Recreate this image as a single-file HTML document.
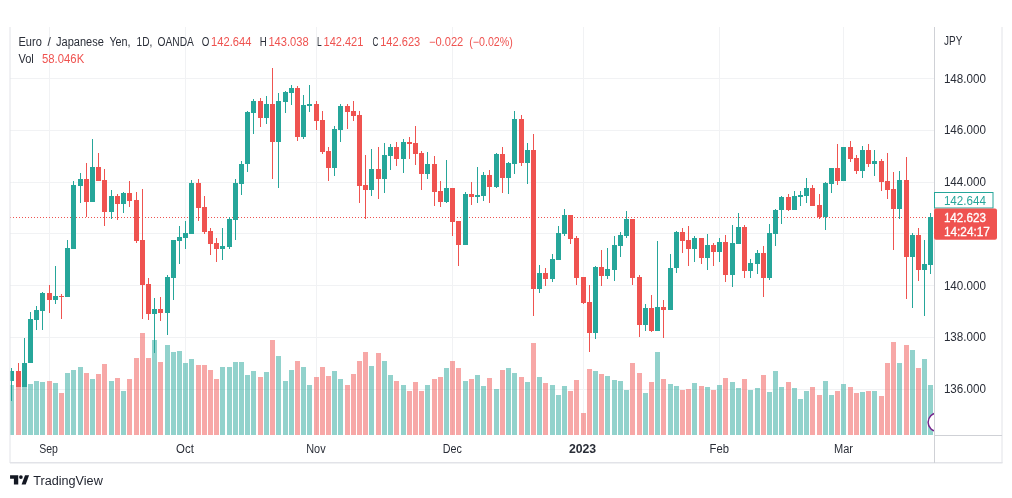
<!DOCTYPE html>
<html lang="en"><head><meta charset="utf-8"><title>EURJPY chart</title>
<style>
html,body{margin:0;padding:0;background:#fff}
body{width:1012px;height:498px;overflow:hidden;position:relative}
svg{display:block;position:absolute;left:0;top:0}
text{font-family:"Liberation Sans","DejaVu Sans",sans-serif;font-size:12px;fill:#2a2e38}
.r{fill:#ef5350}
.g{fill:#26a69a}
.w{fill:#fff;stroke:#fff;stroke-width:0.3px}
</style></head><body>
<svg width="1012" height="498" viewBox="0 0 1012 498">
<defs><clipPath id="pane"><rect x="10" y="27" width="924" height="408.5"/></clipPath></defs>
<rect width="1012" height="498" fill="#fff"/>
<g stroke="#f1f2f4" stroke-width="1" shape-rendering="crispEdges">
<line x1="10" y1="78.5" x2="934" y2="78.5"/>
<line x1="10" y1="130.5" x2="934" y2="130.5"/>
<line x1="10" y1="182.5" x2="934" y2="182.5"/>
<line x1="10" y1="233.5" x2="934" y2="233.5"/>
<line x1="10" y1="285.5" x2="934" y2="285.5"/>
<line x1="10" y1="337.5" x2="934" y2="337.5"/>
<line x1="10" y1="389.5" x2="934" y2="389.5"/>
<line x1="49.5" y1="27" x2="49.5" y2="435"/>
<line x1="185.5" y1="27" x2="185.5" y2="435"/>
<line x1="316.5" y1="27" x2="316.5" y2="435"/>
<line x1="452.5" y1="27" x2="452.5" y2="435"/>
<line x1="583.5" y1="27" x2="583.5" y2="435"/>
<line x1="719.5" y1="27" x2="719.5" y2="435"/>
<line x1="843.5" y1="27" x2="843.5" y2="435"/>
</g>
<g clip-path="url(#pane)" shape-rendering="crispEdges">
<g opacity="0.5">
<rect x="9" y="385.2" width="5" height="49.8" fill="#26a69a"/>
<rect x="16" y="387.2" width="5" height="47.8" fill="#ef5350"/>
<rect x="22" y="386.6" width="5" height="48.4" fill="#26a69a"/>
<rect x="28" y="384.2" width="5" height="50.8" fill="#26a69a"/>
<rect x="34" y="381.2" width="5" height="53.8" fill="#26a69a"/>
<rect x="40" y="382.2" width="5" height="52.8" fill="#26a69a"/>
<rect x="47" y="381.2" width="5" height="53.8" fill="#ef5350"/>
<rect x="53" y="383.2" width="5" height="51.8" fill="#26a69a"/>
<rect x="59" y="393.2" width="5" height="41.8" fill="#ef5350"/>
<rect x="65" y="373.1" width="5" height="61.9" fill="#26a69a"/>
<rect x="71" y="370.1" width="5" height="64.9" fill="#26a69a"/>
<rect x="78" y="367.1" width="5" height="67.9" fill="#26a69a"/>
<rect x="84" y="373.1" width="5" height="61.9" fill="#ef5350"/>
<rect x="90" y="379.2" width="5" height="55.8" fill="#26a69a"/>
<rect x="96" y="374.1" width="5" height="60.9" fill="#ef5350"/>
<rect x="102" y="364.1" width="5" height="70.9" fill="#ef5350"/>
<rect x="109" y="381.2" width="5" height="53.8" fill="#26a69a"/>
<rect x="115" y="378.2" width="5" height="56.8" fill="#ef5350"/>
<rect x="121" y="391.2" width="5" height="43.8" fill="#26a69a"/>
<rect x="127" y="379.2" width="5" height="55.8" fill="#ef5350"/>
<rect x="134" y="358.1" width="5" height="76.9" fill="#ef5350"/>
<rect x="140" y="333.3" width="5" height="101.7" fill="#ef5350"/>
<rect x="146" y="358.1" width="5" height="76.9" fill="#ef5350"/>
<rect x="152" y="339.9" width="5" height="95.1" fill="#26a69a"/>
<rect x="158" y="362.1" width="5" height="72.9" fill="#ef5350"/>
<rect x="165" y="345.2" width="5" height="89.8" fill="#26a69a"/>
<rect x="171" y="352.0" width="5" height="83.0" fill="#26a69a"/>
<rect x="177" y="351.0" width="5" height="84.0" fill="#26a69a"/>
<rect x="183" y="363.1" width="5" height="71.9" fill="#26a69a"/>
<rect x="189" y="359.1" width="5" height="75.9" fill="#26a69a"/>
<rect x="196" y="365.1" width="5" height="69.9" fill="#ef5350"/>
<rect x="202" y="365.1" width="5" height="69.9" fill="#ef5350"/>
<rect x="208" y="370.1" width="5" height="64.9" fill="#ef5350"/>
<rect x="214" y="379.2" width="5" height="55.8" fill="#ef5350"/>
<rect x="220" y="367.1" width="5" height="67.9" fill="#26a69a"/>
<rect x="227" y="367.1" width="5" height="67.9" fill="#26a69a"/>
<rect x="233" y="362.1" width="5" height="72.9" fill="#26a69a"/>
<rect x="239" y="362.1" width="5" height="72.9" fill="#26a69a"/>
<rect x="245" y="375.1" width="5" height="59.9" fill="#26a69a"/>
<rect x="251" y="371.1" width="5" height="63.9" fill="#26a69a"/>
<rect x="258" y="377.1" width="5" height="57.9" fill="#ef5350"/>
<rect x="264" y="372.1" width="5" height="62.9" fill="#26a69a"/>
<rect x="270" y="339.5" width="5" height="95.5" fill="#ef5350"/>
<rect x="276" y="356.1" width="5" height="78.9" fill="#26a69a"/>
<rect x="283" y="381.2" width="5" height="53.8" fill="#26a69a"/>
<rect x="289" y="370.1" width="5" height="64.9" fill="#26a69a"/>
<rect x="295" y="361.1" width="5" height="73.9" fill="#ef5350"/>
<rect x="301" y="367.1" width="5" height="67.9" fill="#26a69a"/>
<rect x="307" y="385.2" width="5" height="49.8" fill="#26a69a"/>
<rect x="314" y="377.1" width="5" height="57.9" fill="#ef5350"/>
<rect x="320" y="367.1" width="5" height="67.9" fill="#ef5350"/>
<rect x="326" y="376.1" width="5" height="58.9" fill="#ef5350"/>
<rect x="332" y="371.1" width="5" height="63.9" fill="#26a69a"/>
<rect x="338" y="379.2" width="5" height="55.8" fill="#26a69a"/>
<rect x="345" y="385.2" width="5" height="49.8" fill="#ef5350"/>
<rect x="351" y="374.1" width="5" height="60.9" fill="#ef5350"/>
<rect x="357" y="361.1" width="5" height="73.9" fill="#ef5350"/>
<rect x="363" y="352.0" width="5" height="83.0" fill="#ef5350"/>
<rect x="369" y="366.1" width="5" height="68.9" fill="#26a69a"/>
<rect x="376" y="353.1" width="5" height="81.9" fill="#ef5350"/>
<rect x="382" y="361.1" width="5" height="73.9" fill="#26a69a"/>
<rect x="388" y="375.1" width="5" height="59.9" fill="#26a69a"/>
<rect x="394" y="381.2" width="5" height="53.8" fill="#ef5350"/>
<rect x="401" y="385.2" width="5" height="49.8" fill="#26a69a"/>
<rect x="407" y="391.2" width="5" height="43.8" fill="#ef5350"/>
<rect x="413" y="382.2" width="5" height="52.8" fill="#ef5350"/>
<rect x="419" y="391.2" width="5" height="43.8" fill="#ef5350"/>
<rect x="425" y="385.2" width="5" height="49.8" fill="#26a69a"/>
<rect x="432" y="379.2" width="5" height="55.8" fill="#ef5350"/>
<rect x="438" y="377.1" width="5" height="57.9" fill="#ef5350"/>
<rect x="444" y="368.1" width="5" height="66.9" fill="#26a69a"/>
<rect x="450" y="361.1" width="5" height="73.9" fill="#ef5350"/>
<rect x="456" y="368.1" width="5" height="66.9" fill="#ef5350"/>
<rect x="463" y="381.2" width="5" height="53.8" fill="#26a69a"/>
<rect x="469" y="379.2" width="5" height="55.8" fill="#ef5350"/>
<rect x="475" y="375.1" width="5" height="59.9" fill="#26a69a"/>
<rect x="481" y="386.2" width="5" height="48.8" fill="#26a69a"/>
<rect x="487" y="378.2" width="5" height="56.8" fill="#ef5350"/>
<rect x="494" y="389.2" width="5" height="45.8" fill="#26a69a"/>
<rect x="500" y="370.1" width="5" height="64.9" fill="#ef5350"/>
<rect x="506" y="368.1" width="5" height="66.9" fill="#26a69a"/>
<rect x="512" y="373.1" width="5" height="61.9" fill="#26a69a"/>
<rect x="519" y="377.1" width="5" height="57.9" fill="#ef5350"/>
<rect x="525" y="382.2" width="5" height="52.8" fill="#26a69a"/>
<rect x="531" y="343.0" width="5" height="92.0" fill="#ef5350"/>
<rect x="537" y="377.1" width="5" height="57.9" fill="#26a69a"/>
<rect x="543" y="383.2" width="5" height="51.8" fill="#ef5350"/>
<rect x="550" y="385.2" width="5" height="49.8" fill="#26a69a"/>
<rect x="556" y="395.2" width="5" height="39.8" fill="#26a69a"/>
<rect x="562" y="386.2" width="5" height="48.8" fill="#26a69a"/>
<rect x="568" y="391.2" width="5" height="43.8" fill="#ef5350"/>
<rect x="574" y="380.2" width="5" height="54.8" fill="#ef5350"/>
<rect x="581" y="413.3" width="5" height="21.7" fill="#ef5350"/>
<rect x="587" y="369.1" width="5" height="65.9" fill="#ef5350"/>
<rect x="593" y="371.1" width="5" height="63.9" fill="#26a69a"/>
<rect x="599" y="374.1" width="5" height="60.9" fill="#ef5350"/>
<rect x="605" y="376.1" width="5" height="58.9" fill="#26a69a"/>
<rect x="612" y="380.2" width="5" height="54.8" fill="#26a69a"/>
<rect x="618" y="381.2" width="5" height="53.8" fill="#26a69a"/>
<rect x="624" y="390.2" width="5" height="44.8" fill="#26a69a"/>
<rect x="630" y="363.1" width="5" height="71.9" fill="#ef5350"/>
<rect x="637" y="373.1" width="5" height="61.9" fill="#ef5350"/>
<rect x="643" y="393.2" width="5" height="41.8" fill="#26a69a"/>
<rect x="649" y="382.2" width="5" height="52.8" fill="#ef5350"/>
<rect x="655" y="352.0" width="5" height="83.0" fill="#26a69a"/>
<rect x="661" y="379.2" width="5" height="55.8" fill="#ef5350"/>
<rect x="668" y="384.2" width="5" height="50.8" fill="#26a69a"/>
<rect x="674" y="386.2" width="5" height="48.8" fill="#26a69a"/>
<rect x="680" y="390.2" width="5" height="44.8" fill="#ef5350"/>
<rect x="686" y="389.2" width="5" height="45.8" fill="#ef5350"/>
<rect x="692" y="383.2" width="5" height="51.8" fill="#26a69a"/>
<rect x="699" y="386.2" width="5" height="48.8" fill="#ef5350"/>
<rect x="705" y="387.2" width="5" height="47.8" fill="#26a69a"/>
<rect x="711" y="390.2" width="5" height="44.8" fill="#ef5350"/>
<rect x="717" y="385.2" width="5" height="49.8" fill="#26a69a"/>
<rect x="723" y="378.2" width="5" height="56.8" fill="#ef5350"/>
<rect x="730" y="382.2" width="5" height="52.8" fill="#26a69a"/>
<rect x="736" y="388.2" width="5" height="46.8" fill="#26a69a"/>
<rect x="742" y="379.2" width="5" height="55.8" fill="#ef5350"/>
<rect x="748" y="390.2" width="5" height="44.8" fill="#26a69a"/>
<rect x="755" y="388.2" width="5" height="46.8" fill="#26a69a"/>
<rect x="761" y="375.1" width="5" height="59.9" fill="#ef5350"/>
<rect x="767" y="392.2" width="5" height="42.8" fill="#26a69a"/>
<rect x="773" y="371.1" width="5" height="63.9" fill="#26a69a"/>
<rect x="779" y="387.2" width="5" height="47.8" fill="#26a69a"/>
<rect x="786" y="382.2" width="5" height="52.8" fill="#ef5350"/>
<rect x="792" y="388.2" width="5" height="46.8" fill="#26a69a"/>
<rect x="798" y="399.2" width="5" height="35.8" fill="#26a69a"/>
<rect x="804" y="391.2" width="5" height="43.8" fill="#26a69a"/>
<rect x="810" y="387.2" width="5" height="47.8" fill="#ef5350"/>
<rect x="817" y="395.2" width="5" height="39.8" fill="#ef5350"/>
<rect x="823" y="381.2" width="5" height="53.8" fill="#26a69a"/>
<rect x="829" y="395.2" width="5" height="39.8" fill="#26a69a"/>
<rect x="835" y="391.2" width="5" height="43.8" fill="#ef5350"/>
<rect x="841" y="384.2" width="5" height="50.8" fill="#26a69a"/>
<rect x="848" y="387.2" width="5" height="47.8" fill="#ef5350"/>
<rect x="854" y="393.2" width="5" height="41.8" fill="#ef5350"/>
<rect x="860" y="392.2" width="5" height="42.8" fill="#26a69a"/>
<rect x="866" y="391.2" width="5" height="43.8" fill="#ef5350"/>
<rect x="872" y="391.2" width="5" height="43.8" fill="#26a69a"/>
<rect x="879" y="396.2" width="5" height="38.8" fill="#ef5350"/>
<rect x="885" y="363.1" width="5" height="71.9" fill="#ef5350"/>
<rect x="891" y="342.0" width="5" height="93.0" fill="#ef5350"/>
<rect x="897" y="363.1" width="5" height="71.9" fill="#26a69a"/>
<rect x="904" y="345.0" width="5" height="90.0" fill="#ef5350"/>
<rect x="910" y="350.0" width="5" height="85.0" fill="#26a69a"/>
<rect x="916" y="368.1" width="5" height="66.9" fill="#ef5350"/>
<rect x="922" y="359.1" width="5" height="75.9" fill="#26a69a"/>
<rect x="928" y="385.2" width="5" height="49.8" fill="#26a69a"/>
</g>
<line x1="10" y1="217.5" x2="934" y2="217.5" stroke="#ef5350" stroke-width="1" stroke-dasharray="1 2" shape-rendering="crispEdges"/>
<rect x="11" y="368.1" width="1" height="33.1" fill="#26a69a"/><rect x="9" y="371.1" width="5" height="10.1" fill="#26a69a"/>
<rect x="18" y="363.1" width="1" height="24.1" fill="#ef5350"/><rect x="16" y="371.1" width="5" height="16.1" fill="#ef5350"/>
<rect x="24" y="337.9" width="1" height="49.3" fill="#26a69a"/><rect x="22" y="363.1" width="5" height="24.1" fill="#26a69a"/>
<rect x="30" y="312.2" width="1" height="50.9" fill="#26a69a"/><rect x="28" y="318.8" width="5" height="44.3" fill="#26a69a"/>
<rect x="36" y="306.2" width="1" height="23.5" fill="#26a69a"/><rect x="34" y="310.2" width="5" height="9.4" fill="#26a69a"/>
<rect x="42" y="291.7" width="1" height="38.0" fill="#26a69a"/><rect x="40" y="292.7" width="5" height="17.9" fill="#26a69a"/>
<rect x="49" y="285.1" width="1" height="27.7" fill="#ef5350"/><rect x="47" y="293.1" width="5" height="6.5" fill="#ef5350"/>
<rect x="55" y="266.0" width="1" height="37.6" fill="#26a69a"/><rect x="53" y="296.1" width="5" height="3.5" fill="#26a69a"/>
<rect x="61" y="294.1" width="1" height="24.5" fill="#ef5350"/><rect x="59" y="296.1" width="5" height="1.0" fill="#ef5350"/>
<rect x="67" y="239.9" width="1" height="56.8" fill="#26a69a"/><rect x="65" y="248.0" width="5" height="48.7" fill="#26a69a"/>
<rect x="73" y="181.1" width="1" height="67.9" fill="#26a69a"/><rect x="71" y="185.1" width="5" height="63.9" fill="#26a69a"/>
<rect x="80" y="173.0" width="1" height="29.6" fill="#26a69a"/><rect x="78" y="179.1" width="5" height="6.6" fill="#26a69a"/>
<rect x="86" y="162.8" width="1" height="54.0" fill="#ef5350"/><rect x="84" y="179.1" width="5" height="22.7" fill="#ef5350"/>
<rect x="92" y="138.7" width="1" height="63.1" fill="#26a69a"/><rect x="90" y="167.0" width="5" height="34.8" fill="#26a69a"/>
<rect x="98" y="153.1" width="1" height="27.4" fill="#ef5350"/><rect x="96" y="167.0" width="5" height="13.5" fill="#ef5350"/>
<rect x="104" y="169.2" width="1" height="56.7" fill="#ef5350"/><rect x="102" y="180.1" width="5" height="31.7" fill="#ef5350"/>
<rect x="111" y="190.1" width="1" height="28.5" fill="#26a69a"/><rect x="109" y="196.1" width="5" height="15.7" fill="#26a69a"/>
<rect x="117" y="194.1" width="1" height="25.5" fill="#ef5350"/><rect x="115" y="196.1" width="5" height="7.5" fill="#ef5350"/>
<rect x="123" y="191.7" width="1" height="21.1" fill="#26a69a"/><rect x="121" y="193.1" width="5" height="10.5" fill="#26a69a"/>
<rect x="129" y="181.1" width="1" height="25.5" fill="#ef5350"/><rect x="127" y="193.1" width="5" height="7.7" fill="#ef5350"/>
<rect x="136" y="192.1" width="1" height="50.6" fill="#ef5350"/><rect x="134" y="200.2" width="5" height="40.5" fill="#ef5350"/>
<rect x="142" y="189.1" width="1" height="129.5" fill="#ef5350"/><rect x="140" y="239.9" width="5" height="44.6" fill="#ef5350"/>
<rect x="148" y="278.1" width="1" height="41.5" fill="#ef5350"/><rect x="146" y="284.1" width="5" height="29.5" fill="#ef5350"/>
<rect x="154" y="298.2" width="1" height="55.2" fill="#26a69a"/><rect x="152" y="308.8" width="5" height="4.8" fill="#26a69a"/>
<rect x="160" y="297.1" width="1" height="23.5" fill="#ef5350"/><rect x="158" y="308.8" width="5" height="3.8" fill="#ef5350"/>
<rect x="167" y="275.1" width="1" height="59.6" fill="#26a69a"/><rect x="165" y="277.1" width="5" height="35.5" fill="#26a69a"/>
<rect x="173" y="239.9" width="1" height="59.7" fill="#26a69a"/><rect x="171" y="239.9" width="5" height="37.8" fill="#26a69a"/>
<rect x="179" y="225.9" width="1" height="38.5" fill="#26a69a"/><rect x="177" y="236.9" width="5" height="3.8" fill="#26a69a"/>
<rect x="185" y="221.2" width="1" height="28.2" fill="#26a69a"/><rect x="183" y="233.3" width="5" height="4.6" fill="#26a69a"/>
<rect x="191" y="180.1" width="1" height="53.6" fill="#26a69a"/><rect x="189" y="183.1" width="5" height="50.6" fill="#26a69a"/>
<rect x="198" y="179.1" width="1" height="42.1" fill="#ef5350"/><rect x="196" y="183.1" width="5" height="24.5" fill="#ef5350"/>
<rect x="204" y="196.1" width="1" height="38.2" fill="#ef5350"/><rect x="202" y="207.2" width="5" height="24.5" fill="#ef5350"/>
<rect x="210" y="228.3" width="1" height="26.2" fill="#ef5350"/><rect x="208" y="230.9" width="5" height="12.8" fill="#ef5350"/>
<rect x="216" y="238.3" width="1" height="23.2" fill="#ef5350"/><rect x="214" y="242.9" width="5" height="5.9" fill="#ef5350"/>
<rect x="222" y="228.3" width="1" height="31.2" fill="#26a69a"/><rect x="220" y="246.3" width="5" height="2.5" fill="#26a69a"/>
<rect x="229" y="217.2" width="1" height="31.6" fill="#26a69a"/><rect x="227" y="218.8" width="5" height="27.9" fill="#26a69a"/>
<rect x="235" y="179.1" width="1" height="60.6" fill="#26a69a"/><rect x="233" y="183.1" width="5" height="36.5" fill="#26a69a"/>
<rect x="241" y="160.6" width="1" height="33.9" fill="#26a69a"/><rect x="239" y="164.0" width="5" height="19.7" fill="#26a69a"/>
<rect x="247" y="111.2" width="1" height="61.2" fill="#26a69a"/><rect x="245" y="111.8" width="5" height="52.6" fill="#26a69a"/>
<rect x="253" y="99.2" width="1" height="35.1" fill="#26a69a"/><rect x="251" y="101.2" width="5" height="11.4" fill="#26a69a"/>
<rect x="260" y="98.2" width="1" height="29.1" fill="#ef5350"/><rect x="258" y="101.2" width="5" height="16.4" fill="#ef5350"/>
<rect x="266" y="96.1" width="1" height="27.8" fill="#26a69a"/><rect x="264" y="104.2" width="5" height="13.4" fill="#26a69a"/>
<rect x="272" y="68.0" width="1" height="110.5" fill="#ef5350"/><rect x="270" y="104.2" width="5" height="37.5" fill="#ef5350"/>
<rect x="278" y="93.1" width="1" height="94.6" fill="#26a69a"/><rect x="276" y="101.2" width="5" height="40.5" fill="#26a69a"/>
<rect x="285" y="91.1" width="1" height="22.1" fill="#26a69a"/><rect x="283" y="92.1" width="5" height="9.5" fill="#26a69a"/>
<rect x="291" y="85.1" width="1" height="19.5" fill="#26a69a"/><rect x="289" y="88.1" width="5" height="4.6" fill="#26a69a"/>
<rect x="297" y="86.1" width="1" height="55.2" fill="#ef5350"/><rect x="295" y="88.1" width="5" height="48.6" fill="#ef5350"/>
<rect x="303" y="95.1" width="1" height="44.2" fill="#26a69a"/><rect x="301" y="105.2" width="5" height="31.5" fill="#26a69a"/>
<rect x="309" y="85.1" width="1" height="26.5" fill="#26a69a"/><rect x="307" y="104.2" width="5" height="1.6" fill="#26a69a"/>
<rect x="316" y="101.2" width="1" height="29.1" fill="#ef5350"/><rect x="314" y="104.2" width="5" height="16.4" fill="#ef5350"/>
<rect x="322" y="111.2" width="1" height="43.2" fill="#ef5350"/><rect x="320" y="119.8" width="5" height="32.0" fill="#ef5350"/>
<rect x="328" y="147.3" width="1" height="33.2" fill="#ef5350"/><rect x="326" y="151.0" width="5" height="16.6" fill="#ef5350"/>
<rect x="334" y="126.3" width="1" height="49.2" fill="#26a69a"/><rect x="332" y="128.9" width="5" height="38.7" fill="#26a69a"/>
<rect x="340" y="104.2" width="1" height="38.1" fill="#26a69a"/><rect x="338" y="106.2" width="5" height="23.5" fill="#26a69a"/>
<rect x="347" y="104.2" width="1" height="25.1" fill="#ef5350"/><rect x="345" y="106.2" width="5" height="5.4" fill="#ef5350"/>
<rect x="353" y="101.2" width="1" height="20.0" fill="#ef5350"/><rect x="351" y="111.2" width="5" height="4.4" fill="#ef5350"/>
<rect x="359" y="111.2" width="1" height="91.4" fill="#ef5350"/><rect x="357" y="114.8" width="5" height="70.9" fill="#ef5350"/>
<rect x="365" y="155.4" width="1" height="63.2" fill="#ef5350"/><rect x="363" y="185.1" width="5" height="4.6" fill="#ef5350"/>
<rect x="371" y="149.0" width="1" height="46.7" fill="#26a69a"/><rect x="369" y="169.0" width="5" height="20.7" fill="#26a69a"/>
<rect x="378" y="147.0" width="1" height="51.6" fill="#ef5350"/><rect x="376" y="169.0" width="5" height="9.7" fill="#ef5350"/>
<rect x="384" y="142.8" width="1" height="49.9" fill="#26a69a"/><rect x="382" y="154.8" width="5" height="23.9" fill="#26a69a"/>
<rect x="390" y="144.2" width="1" height="25.5" fill="#26a69a"/><rect x="388" y="147.2" width="5" height="8.4" fill="#26a69a"/>
<rect x="396" y="142.2" width="1" height="24.1" fill="#ef5350"/><rect x="394" y="147.2" width="5" height="11.4" fill="#ef5350"/>
<rect x="403" y="139.2" width="1" height="33.5" fill="#26a69a"/><rect x="401" y="142.2" width="5" height="16.4" fill="#26a69a"/>
<rect x="409" y="137.1" width="1" height="21.5" fill="#ef5350"/><rect x="407" y="142.2" width="5" height="1.4" fill="#ef5350"/>
<rect x="415" y="126.1" width="1" height="38.6" fill="#ef5350"/><rect x="413" y="143.2" width="5" height="10.4" fill="#ef5350"/>
<rect x="421" y="151.2" width="1" height="39.2" fill="#ef5350"/><rect x="419" y="153.2" width="5" height="20.5" fill="#ef5350"/>
<rect x="427" y="152.2" width="1" height="26.5" fill="#26a69a"/><rect x="425" y="164.3" width="5" height="9.4" fill="#26a69a"/>
<rect x="434" y="156.2" width="1" height="49.3" fill="#ef5350"/><rect x="432" y="164.3" width="5" height="27.4" fill="#ef5350"/>
<rect x="440" y="180.9" width="1" height="25.6" fill="#ef5350"/><rect x="438" y="191.2" width="5" height="10.3" fill="#ef5350"/>
<rect x="446" y="160.2" width="1" height="42.3" fill="#26a69a"/><rect x="444" y="188.0" width="5" height="13.7" fill="#26a69a"/>
<rect x="452" y="188.0" width="1" height="47.8" fill="#ef5350"/><rect x="450" y="188.0" width="5" height="33.8" fill="#ef5350"/>
<rect x="458" y="221.2" width="1" height="44.5" fill="#ef5350"/><rect x="456" y="221.2" width="5" height="23.5" fill="#ef5350"/>
<rect x="465" y="192.0" width="1" height="52.9" fill="#26a69a"/><rect x="463" y="193.8" width="5" height="51.1" fill="#26a69a"/>
<rect x="471" y="182.3" width="1" height="22.2" fill="#ef5350"/><rect x="469" y="194.0" width="5" height="2.5" fill="#ef5350"/>
<rect x="477" y="167.3" width="1" height="35.2" fill="#26a69a"/><rect x="475" y="195.2" width="5" height="1.5" fill="#26a69a"/>
<rect x="483" y="172.3" width="1" height="28.2" fill="#26a69a"/><rect x="481" y="174.9" width="5" height="20.9" fill="#26a69a"/>
<rect x="489" y="170.3" width="1" height="32.2" fill="#ef5350"/><rect x="487" y="175.3" width="5" height="11.2" fill="#ef5350"/>
<rect x="496" y="153.2" width="1" height="35.2" fill="#26a69a"/><rect x="494" y="154.2" width="5" height="32.3" fill="#26a69a"/>
<rect x="502" y="147.2" width="1" height="46.2" fill="#ef5350"/><rect x="500" y="154.2" width="5" height="23.5" fill="#ef5350"/>
<rect x="508" y="162.2" width="1" height="32.2" fill="#26a69a"/><rect x="506" y="163.3" width="5" height="14.4" fill="#26a69a"/>
<rect x="514" y="111.0" width="1" height="62.7" fill="#26a69a"/><rect x="512" y="119.1" width="5" height="44.6" fill="#26a69a"/>
<rect x="521" y="115.1" width="1" height="50.6" fill="#ef5350"/><rect x="519" y="119.1" width="5" height="43.8" fill="#ef5350"/>
<rect x="527" y="143.2" width="1" height="40.3" fill="#26a69a"/><rect x="525" y="150.2" width="5" height="12.7" fill="#26a69a"/>
<rect x="533" y="134.1" width="1" height="181.6" fill="#ef5350"/><rect x="531" y="150.2" width="5" height="138.6" fill="#ef5350"/>
<rect x="539" y="265.2" width="1" height="28.0" fill="#26a69a"/><rect x="537" y="273.0" width="5" height="15.8" fill="#26a69a"/>
<rect x="545" y="268.2" width="1" height="17.3" fill="#ef5350"/><rect x="543" y="273.0" width="5" height="5.7" fill="#ef5350"/>
<rect x="552" y="254.1" width="1" height="28.0" fill="#26a69a"/><rect x="550" y="259.0" width="5" height="19.7" fill="#26a69a"/>
<rect x="558" y="226.2" width="1" height="33.3" fill="#26a69a"/><rect x="556" y="232.8" width="5" height="26.7" fill="#26a69a"/>
<rect x="564" y="209.1" width="1" height="26.5" fill="#26a69a"/><rect x="562" y="215.1" width="5" height="18.5" fill="#26a69a"/>
<rect x="570" y="215.1" width="1" height="28.6" fill="#ef5350"/><rect x="568" y="215.1" width="5" height="23.5" fill="#ef5350"/>
<rect x="576" y="236.2" width="1" height="48.3" fill="#ef5350"/><rect x="574" y="238.2" width="5" height="39.5" fill="#ef5350"/>
<rect x="583" y="276.7" width="1" height="26.9" fill="#ef5350"/><rect x="581" y="277.2" width="5" height="25.6" fill="#ef5350"/>
<rect x="589" y="285.1" width="1" height="67.3" fill="#ef5350"/><rect x="587" y="301.8" width="5" height="30.9" fill="#ef5350"/>
<rect x="595" y="266.1" width="1" height="73.3" fill="#26a69a"/><rect x="593" y="267.2" width="5" height="65.5" fill="#26a69a"/>
<rect x="601" y="249.9" width="1" height="35.6" fill="#ef5350"/><rect x="599" y="267.2" width="5" height="8.5" fill="#ef5350"/>
<rect x="607" y="247.9" width="1" height="30.7" fill="#26a69a"/><rect x="605" y="269.0" width="5" height="6.7" fill="#26a69a"/>
<rect x="614" y="236.2" width="1" height="44.3" fill="#26a69a"/><rect x="612" y="244.9" width="5" height="24.7" fill="#26a69a"/>
<rect x="620" y="232.2" width="1" height="24.3" fill="#26a69a"/><rect x="618" y="235.2" width="5" height="10.5" fill="#26a69a"/>
<rect x="626" y="211.1" width="1" height="27.1" fill="#26a69a"/><rect x="624" y="219.2" width="5" height="17.0" fill="#26a69a"/>
<rect x="632" y="219.2" width="1" height="65.3" fill="#ef5350"/><rect x="630" y="219.2" width="5" height="58.5" fill="#ef5350"/>
<rect x="639" y="275.1" width="1" height="61.6" fill="#ef5350"/><rect x="637" y="277.2" width="5" height="47.5" fill="#ef5350"/>
<rect x="645" y="304.2" width="1" height="26.5" fill="#26a69a"/><rect x="643" y="308.2" width="5" height="16.5" fill="#26a69a"/>
<rect x="651" y="295.2" width="1" height="36.5" fill="#ef5350"/><rect x="649" y="308.2" width="5" height="22.5" fill="#ef5350"/>
<rect x="657" y="241.2" width="1" height="89.5" fill="#26a69a"/><rect x="655" y="307.2" width="5" height="23.5" fill="#26a69a"/>
<rect x="663" y="300.2" width="1" height="38.2" fill="#ef5350"/><rect x="661" y="307.2" width="5" height="2.4" fill="#ef5350"/>
<rect x="670" y="254.2" width="1" height="55.4" fill="#26a69a"/><rect x="668" y="268.0" width="5" height="41.6" fill="#26a69a"/>
<rect x="676" y="231.2" width="1" height="41.5" fill="#26a69a"/><rect x="674" y="232.2" width="5" height="36.2" fill="#26a69a"/>
<rect x="682" y="228.2" width="1" height="24.5" fill="#ef5350"/><rect x="680" y="232.2" width="5" height="8.6" fill="#ef5350"/>
<rect x="688" y="226.2" width="1" height="39.5" fill="#ef5350"/><rect x="686" y="239.8" width="5" height="8.9" fill="#ef5350"/>
<rect x="694" y="236.2" width="1" height="26.1" fill="#26a69a"/><rect x="692" y="238.2" width="5" height="10.5" fill="#26a69a"/>
<rect x="701" y="238.2" width="1" height="25.5" fill="#ef5350"/><rect x="699" y="238.2" width="5" height="19.5" fill="#ef5350"/>
<rect x="707" y="234.2" width="1" height="36.2" fill="#26a69a"/><rect x="705" y="245.3" width="5" height="12.4" fill="#26a69a"/>
<rect x="713" y="243.3" width="1" height="22.4" fill="#ef5350"/><rect x="711" y="245.3" width="5" height="6.4" fill="#ef5350"/>
<rect x="719" y="238.2" width="1" height="23.5" fill="#26a69a"/><rect x="717" y="242.2" width="5" height="9.5" fill="#26a69a"/>
<rect x="725" y="235.2" width="1" height="47.1" fill="#ef5350"/><rect x="723" y="242.2" width="5" height="32.4" fill="#ef5350"/>
<rect x="732" y="225.2" width="1" height="61.5" fill="#26a69a"/><rect x="730" y="243.3" width="5" height="31.3" fill="#26a69a"/>
<rect x="738" y="213.1" width="1" height="30.6" fill="#26a69a"/><rect x="736" y="227.2" width="5" height="16.5" fill="#26a69a"/>
<rect x="744" y="225.2" width="1" height="52.6" fill="#ef5350"/><rect x="742" y="227.2" width="5" height="43.6" fill="#ef5350"/>
<rect x="750" y="259.3" width="1" height="18.5" fill="#26a69a"/><rect x="748" y="263.3" width="5" height="7.5" fill="#26a69a"/>
<rect x="757" y="250.3" width="1" height="23.4" fill="#26a69a"/><rect x="755" y="253.3" width="5" height="10.4" fill="#26a69a"/>
<rect x="763" y="246.2" width="1" height="50.6" fill="#ef5350"/><rect x="761" y="253.2" width="5" height="24.5" fill="#ef5350"/>
<rect x="769" y="224.1" width="1" height="55.6" fill="#26a69a"/><rect x="767" y="233.1" width="5" height="44.6" fill="#26a69a"/>
<rect x="775" y="208.8" width="1" height="36.8" fill="#26a69a"/><rect x="773" y="210.1" width="5" height="23.4" fill="#26a69a"/>
<rect x="781" y="196.0" width="1" height="27.5" fill="#26a69a"/><rect x="779" y="196.9" width="5" height="13.5" fill="#26a69a"/>
<rect x="788" y="194.2" width="1" height="16.6" fill="#ef5350"/><rect x="786" y="197.2" width="5" height="12.3" fill="#ef5350"/>
<rect x="794" y="190.5" width="1" height="19.0" fill="#26a69a"/><rect x="792" y="196.3" width="5" height="13.2" fill="#26a69a"/>
<rect x="800" y="191.4" width="1" height="14.5" fill="#26a69a"/><rect x="798" y="195.1" width="5" height="1.4" fill="#26a69a"/>
<rect x="806" y="177.9" width="1" height="24.8" fill="#26a69a"/><rect x="804" y="188.2" width="5" height="7.4" fill="#26a69a"/>
<rect x="812" y="185.1" width="1" height="20.4" fill="#ef5350"/><rect x="810" y="188.2" width="5" height="17.3" fill="#ef5350"/>
<rect x="819" y="194.2" width="1" height="24.4" fill="#ef5350"/><rect x="817" y="205.0" width="5" height="12.4" fill="#ef5350"/>
<rect x="825" y="181.5" width="1" height="48.2" fill="#26a69a"/><rect x="823" y="183.0" width="5" height="34.2" fill="#26a69a"/>
<rect x="831" y="168.0" width="1" height="24.7" fill="#26a69a"/><rect x="829" y="168.0" width="5" height="15.7" fill="#26a69a"/>
<rect x="837" y="144.1" width="1" height="40.7" fill="#ef5350"/><rect x="835" y="168.0" width="5" height="12.6" fill="#ef5350"/>
<rect x="843" y="146.5" width="1" height="34.6" fill="#26a69a"/><rect x="841" y="147.2" width="5" height="33.9" fill="#26a69a"/>
<rect x="850" y="141.2" width="1" height="20.4" fill="#ef5350"/><rect x="848" y="147.2" width="5" height="11.4" fill="#ef5350"/>
<rect x="856" y="155.3" width="1" height="18.4" fill="#ef5350"/><rect x="854" y="158.0" width="5" height="13.0" fill="#ef5350"/>
<rect x="862" y="146.3" width="1" height="32.1" fill="#26a69a"/><rect x="860" y="149.9" width="5" height="21.1" fill="#26a69a"/>
<rect x="868" y="144.1" width="1" height="22.6" fill="#ef5350"/><rect x="866" y="149.9" width="5" height="14.4" fill="#ef5350"/>
<rect x="874" y="149.9" width="1" height="25.8" fill="#26a69a"/><rect x="872" y="161.3" width="5" height="3.0" fill="#26a69a"/>
<rect x="881" y="158.9" width="1" height="32.5" fill="#ef5350"/><rect x="879" y="161.1" width="5" height="20.4" fill="#ef5350"/>
<rect x="887" y="153.1" width="1" height="45.6" fill="#ef5350"/><rect x="885" y="181.1" width="5" height="8.5" fill="#ef5350"/>
<rect x="893" y="172.1" width="1" height="77.6" fill="#ef5350"/><rect x="891" y="189.1" width="5" height="19.7" fill="#ef5350"/>
<rect x="899" y="171.2" width="1" height="48.1" fill="#26a69a"/><rect x="897" y="180.2" width="5" height="28.6" fill="#26a69a"/>
<rect x="906" y="157.1" width="1" height="141.4" fill="#ef5350"/><rect x="904" y="180.2" width="5" height="76.7" fill="#ef5350"/>
<rect x="912" y="232.7" width="1" height="75.0" fill="#26a69a"/><rect x="910" y="235.0" width="5" height="21.9" fill="#26a69a"/>
<rect x="918" y="228.1" width="1" height="52.4" fill="#ef5350"/><rect x="916" y="235.0" width="5" height="34.8" fill="#ef5350"/>
<rect x="924" y="240.0" width="1" height="75.6" fill="#26a69a"/><rect x="922" y="264.2" width="5" height="5.6" fill="#26a69a"/>
<rect x="930" y="212.9" width="1" height="60.8" fill="#26a69a"/><rect x="928" y="217.2" width="5" height="47.6" fill="#26a69a"/>
</g>
<g clip-path="url(#pane)"><circle cx="937.3" cy="422.2" r="9.2" fill="#fff" stroke="#76238c" stroke-width="1.5"/></g>
<g stroke="#e2e3e8" stroke-width="1" shape-rendering="crispEdges" fill="none">
<line x1="10" y1="27" x2="10" y2="463" shape-rendering="auto"/>
<line x1="1002" y1="27" x2="1002" y2="463" shape-rendering="auto"/>
<line x1="10" y1="462.8" x2="1002.5" y2="462.8" stroke-width="1.6" shape-rendering="auto"/>
<line x1="934.5" y1="27" x2="934.5" y2="463" stroke="#cfd1d6"/>
<line x1="934" y1="435.5" x2="1002" y2="435.5" stroke="#cfd1d6"/>
</g>
<text x="943.9" y="82.6" textLength="42.1" lengthAdjust="spacingAndGlyphs" style="font-size:12px">148.000</text>
<text x="943.9" y="134.4" textLength="42.1" lengthAdjust="spacingAndGlyphs" style="font-size:12px">146.000</text>
<text x="943.9" y="186.1" textLength="42.1" lengthAdjust="spacingAndGlyphs" style="font-size:12px">144.000</text>
<text x="943.9" y="289.6" textLength="42.1" lengthAdjust="spacingAndGlyphs" style="font-size:12px">140.000</text>
<text x="943.9" y="341.4" textLength="42.1" lengthAdjust="spacingAndGlyphs" style="font-size:12px">138.000</text>
<text x="943.9" y="393.1" textLength="42.1" lengthAdjust="spacingAndGlyphs" style="font-size:12px">136.000</text>
<text x="944.1" y="45.0" textLength="18.3" lengthAdjust="spacingAndGlyphs" style="font-size:12px">JPY</text>
<rect x="934.5" y="192.5" width="58.5" height="15.5" fill="#fff" stroke="#26a69a" stroke-width="1"/>
<text x="943.9" y="204.9" class="g" textLength="42.1" lengthAdjust="spacingAndGlyphs" style="font-size:12px">142.644</text>
<rect x="934" y="208.5" width="63" height="31.3" rx="2" ry="2" fill="#ef5350"/>
<text x="943.9" y="222.3" class="w" textLength="42.1" lengthAdjust="spacingAndGlyphs" style="font-size:12px">142.623</text>
<text x="943.9" y="235.7" class="w" textLength="46.0" lengthAdjust="spacingAndGlyphs" style="font-size:12px">14:24:17</text>
<text x="39.2" y="452.8" textLength="18.7" lengthAdjust="spacingAndGlyphs" style="font-size:12px">Sep</text>
<text x="176.1" y="452.8" textLength="17.8" lengthAdjust="spacingAndGlyphs" style="font-size:12px">Oct</text>
<text x="306.2" y="452.8" textLength="19.4" lengthAdjust="spacingAndGlyphs" style="font-size:12px">Nov</text>
<text x="442.8" y="452.8" textLength="19.1" lengthAdjust="spacingAndGlyphs" style="font-size:12px">Dec</text>
<text x="709.6" y="452.8" textLength="19.4" lengthAdjust="spacingAndGlyphs" style="font-size:12px">Feb</text>
<text x="834.0" y="452.8" textLength="19.0" lengthAdjust="spacingAndGlyphs" style="font-size:12px">Mar</text>
<text x="568.9" y="452.8" textLength="27.3" lengthAdjust="spacingAndGlyphs" style="font-size:12px;font-weight:bold">2023</text>
<text x="18.5" y="45.6" textLength="23.3" lengthAdjust="spacingAndGlyphs" style="font-size:12px">Euro</text>
<text x="47.6" y="45.6" style="font-size:12px">/</text>
<text x="56.0" y="45.6" textLength="47.9" lengthAdjust="spacingAndGlyphs" style="font-size:12px">Japanese</text>
<text x="109.4" y="45.6" textLength="21.2" lengthAdjust="spacingAndGlyphs" style="font-size:12px">Yen,</text>
<text x="136.6" y="45.6" textLength="15.8" lengthAdjust="spacingAndGlyphs" style="font-size:12px">1D,</text>
<text x="157.6" y="45.6" textLength="36.3" lengthAdjust="spacingAndGlyphs" style="font-size:12px">OANDA</text>
<text x="201.7" y="45.6" textLength="7.6" lengthAdjust="spacingAndGlyphs" style="font-size:12px">O</text>
<text x="211.0" y="45.6" class="r" textLength="40.4" lengthAdjust="spacingAndGlyphs" style="font-size:12px">142.644</text>
<text x="259.7" y="45.6" textLength="7.0" lengthAdjust="spacingAndGlyphs" style="font-size:12px">H</text>
<text x="268.4" y="45.6" class="r" textLength="40.3" lengthAdjust="spacingAndGlyphs" style="font-size:12px">143.038</text>
<text x="317.1" y="45.6" textLength="4.7" lengthAdjust="spacingAndGlyphs" style="font-size:12px">L</text>
<text x="323.5" y="45.6" class="r" textLength="39.9" lengthAdjust="spacingAndGlyphs" style="font-size:12px">142.421</text>
<text x="372.6" y="45.6" textLength="5.9" lengthAdjust="spacingAndGlyphs" style="font-size:12px">C</text>
<text x="380.2" y="45.6" class="r" textLength="40.1" lengthAdjust="spacingAndGlyphs" style="font-size:12px">142.623</text>
<text x="428.9" y="45.6" class="r" textLength="34.4" lengthAdjust="spacingAndGlyphs" style="font-size:12px">−0.022</text>
<text x="469.2" y="45.6" class="r" textLength="43.7" lengthAdjust="spacingAndGlyphs" style="font-size:12px">(−0.02%)</text>
<text x="18.4" y="62.7" textLength="15.4" lengthAdjust="spacingAndGlyphs" style="font-size:12px">Vol</text>
<text x="42.0" y="62.7" class="r" textLength="42.2" lengthAdjust="spacingAndGlyphs" style="font-size:12px">58.046K</text>
<g fill="#131722"><path d="M10.06 475.2H18.25V484.6H13.9V478.7H10.06Z"/><circle cx="20.9" cy="477.1" r="1.85"/><path d="M25 475.2H29.1L25.7 484.6H21.6Z"/></g>
<text x="33.2" y="484.6" textLength="69.6" lengthAdjust="spacingAndGlyphs" style="fill:#1e222d">TradingView</text>
</svg>
</body></html>
